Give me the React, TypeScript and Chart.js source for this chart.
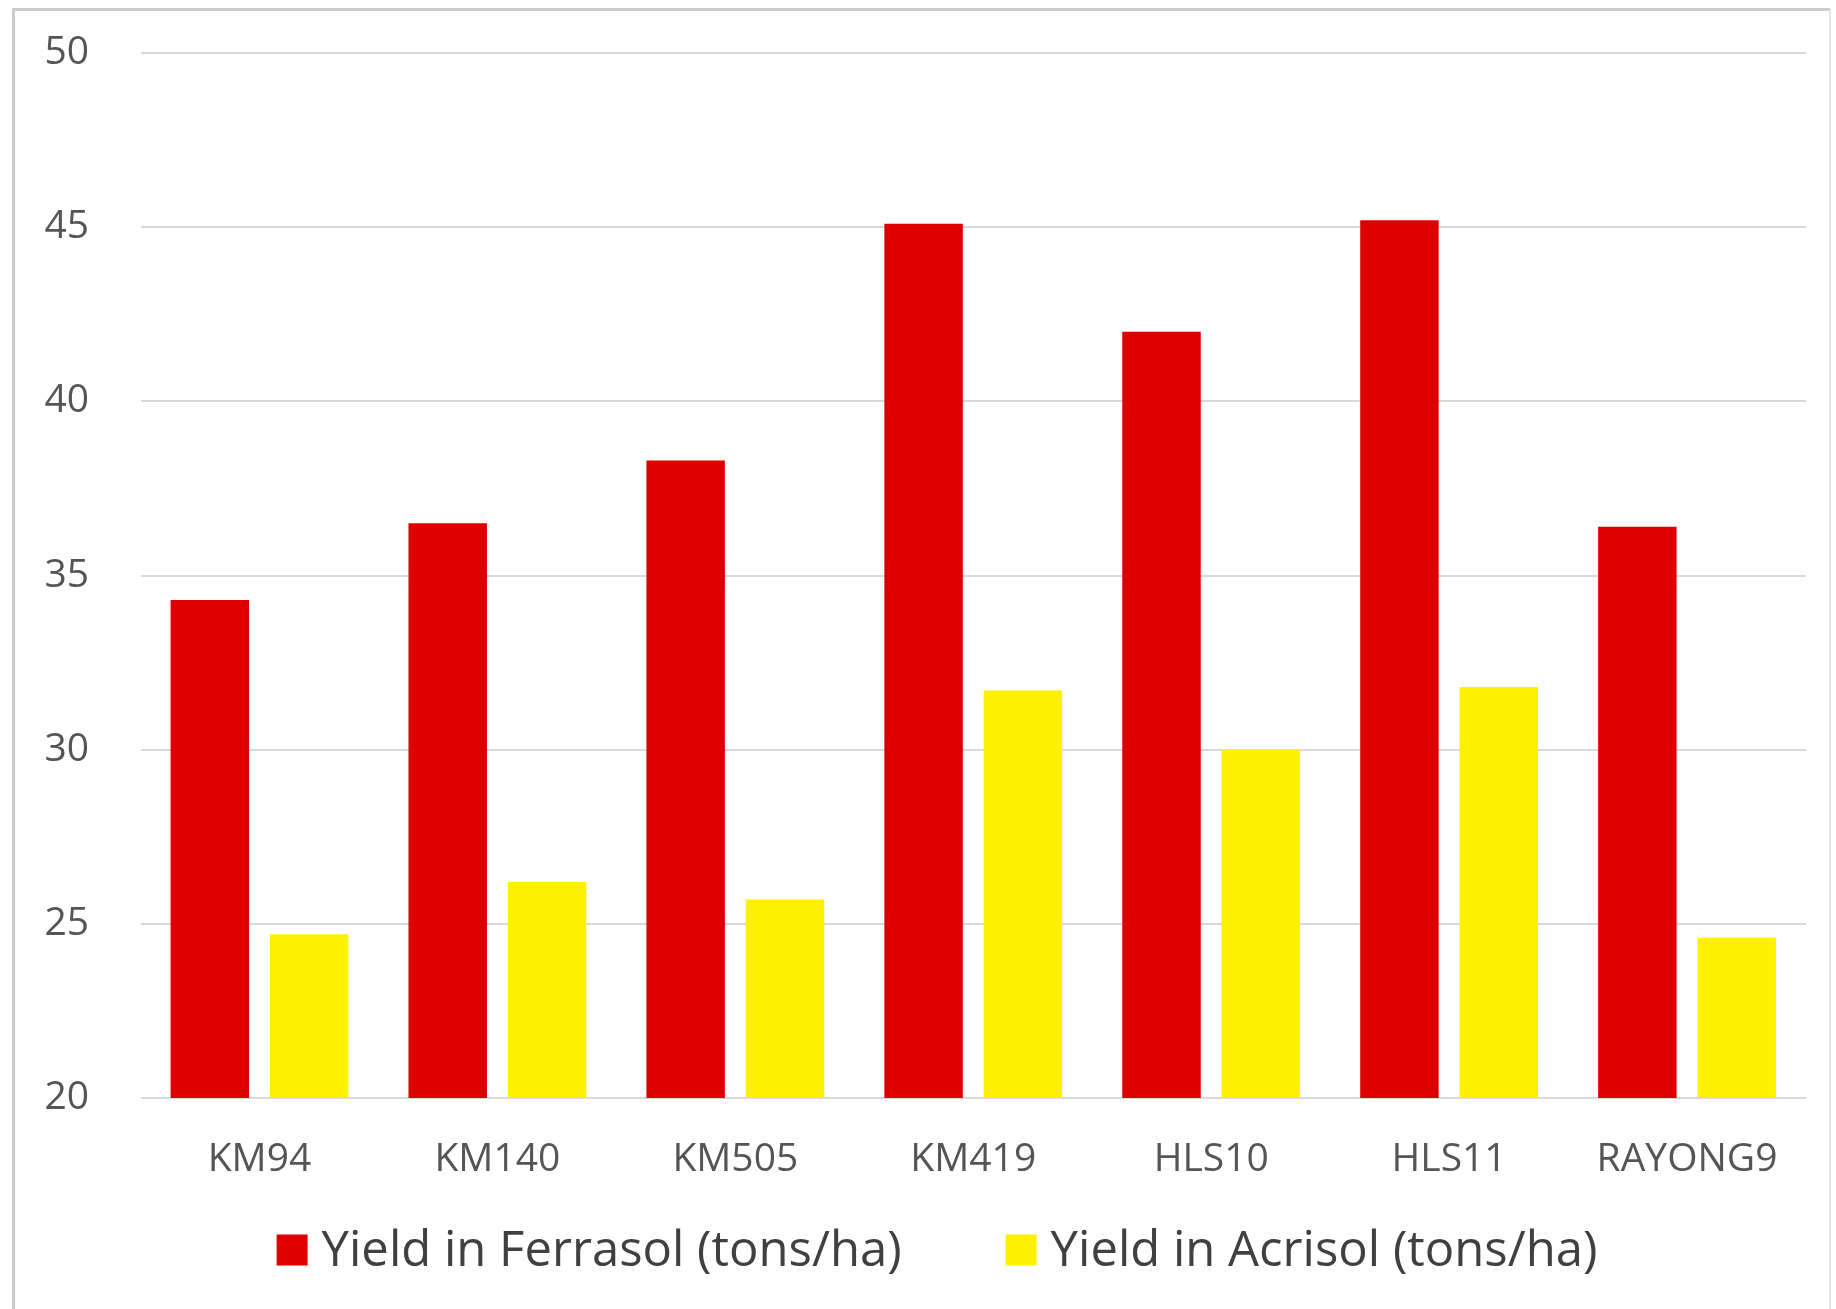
import React, { useEffect, useRef } from "react";
import { Chart, registerables } from "chart.js";

Chart.register(...registerables);

const categories = ["KM94", "KM140", "KM505", "KM419", "HLS10", "HLS11", "RAYONG9"];
const ferrasolYield = [34.3, 36.5, 38.3, 45.1, 42.0, 45.2, 36.4];
const acrisolYield = [24.7, 26.2, 25.7, 31.7, 30.0, 31.8, 24.6];
const seriesLabels = ["Yield in Ferrasol (tons/ha)", "Yield in Acrisol (tons/ha)"];
const seriesColors = ["#DE0000", "#FFF100"];
const yTicks = { min: 20, max: 50, step: 5 };

const W = 1836;
const H = 1309;
const FONT = "'Open Sans', 'Liberation Sans', sans-serif";

const framePlugin = {
  id: "frame",
  beforeDraw(chart: any) {
    const ctx = chart.ctx;
    ctx.save();
    ctx.fillStyle = "#ffffff";
    ctx.fillRect(0, 0, chart.width, chart.height);
    ctx.strokeStyle = "#cccccc";
    ctx.lineWidth = 3;
    ctx.beginPath();
    ctx.moveTo(13.5, chart.height + 5);
    ctx.lineTo(13.5, 9.5);
    ctx.lineTo(1830, 9.5);
    ctx.stroke();
    ctx.strokeStyle = "#e4e4e4";
    ctx.lineWidth = 2;
    ctx.beginPath();
    ctx.moveTo(1830, 9.5);
    ctx.lineTo(1830, chart.height + 5);
    ctx.stroke();
    ctx.restore();
  },
};

const legendPlugin = {
  id: "customLegend",
  afterDraw(chart: any) {
    const ctx = chart.ctx;
    const box = 31;
    const gapText = 14;
    const gapItem = 104;
    const cy = 1250;
    const centerX = 937;
    ctx.save();
    ctx.font = `49px ${FONT}`;
    ctx.textBaseline = "middle";
    ctx.textAlign = "left";
    const items = chart.data.datasets.map((ds: any) => ({
      text: ds.label,
      color: ds.backgroundColor,
      w: ctx.measureText(ds.label).width,
    }));
    let total = 0;
    items.forEach((it: any, i: number) => {
      total += box + gapText + it.w + (i < items.length - 1 ? gapItem : 0);
    });
    let x = centerX - total / 2;
    items.forEach((it: any) => {
      ctx.fillStyle = it.color;
      ctx.fillRect(x, cy - box / 2, box, box);
      x += box + gapText;
      ctx.fillStyle = "#404040";
      ctx.fillText(it.text, x, cy + 2);
      x += it.w + gapItem;
    });
    ctx.restore();
  },
};

export default function App() {
  const ref = useRef<HTMLCanvasElement | null>(null);

  useEffect(() => {
    if (!ref.current) return;
    const chart = new Chart(ref.current, {
      type: "bar",
      data: {
        labels: categories,
        datasets: [
          {
            label: seriesLabels[0],
            data: ferrasolYield,
            backgroundColor: seriesColors[0],
            borderWidth: 0,
          },
          {
            label: seriesLabels[1],
            data: acrisolYield,
            backgroundColor: seriesColors[1],
            borderWidth: 0,
          },
        ],
      },
      options: {
        responsive: false,
        animation: false,
        devicePixelRatio: 1,
        layout: { padding: { left: 44.5, right: 30, top: 53, bottom: 0 } },
        datasets: {
          bar: { categoryPercentage: 0.835, barPercentage: 0.79 },
        },
        plugins: {
          legend: { display: false },
          tooltip: { enabled: false },
          title: { display: false },
        },
        scales: {
          x: {
            grid: { display: false, drawTicks: false },
            border: { display: false },
            ticks: {
              color: "#555555",
              font: { family: FONT, size: 39 },
              padding: 38,
              maxRotation: 0,
            },
            afterFit(scale: any) {
              scale.height = 211;
            },
          },
          y: {
            min: yTicks.min,
            max: yTicks.max,
            grid: { color: "#d9d9d9", lineWidth: 2, drawTicks: false },
            border: { display: false },
            ticks: {
              stepSize: yTicks.step,
              color: "#555555",
              font: { family: FONT, size: 39 },
              padding: 0,
              crossAlign: "far",
            },
            afterFit(scale: any) {
              scale.width = 96;
            },
          },
        },
      },
      plugins: [framePlugin, legendPlugin],
    });
    return () => chart.destroy();
  }, []);

  return (
    <div style={{ position: "fixed", left: 0, top: 0, width: W, height: H, background: "#fff" }}>
      <canvas ref={ref} width={W} height={H} style={{ display: "block", width: W, height: H }} />
    </div>
  );
}
